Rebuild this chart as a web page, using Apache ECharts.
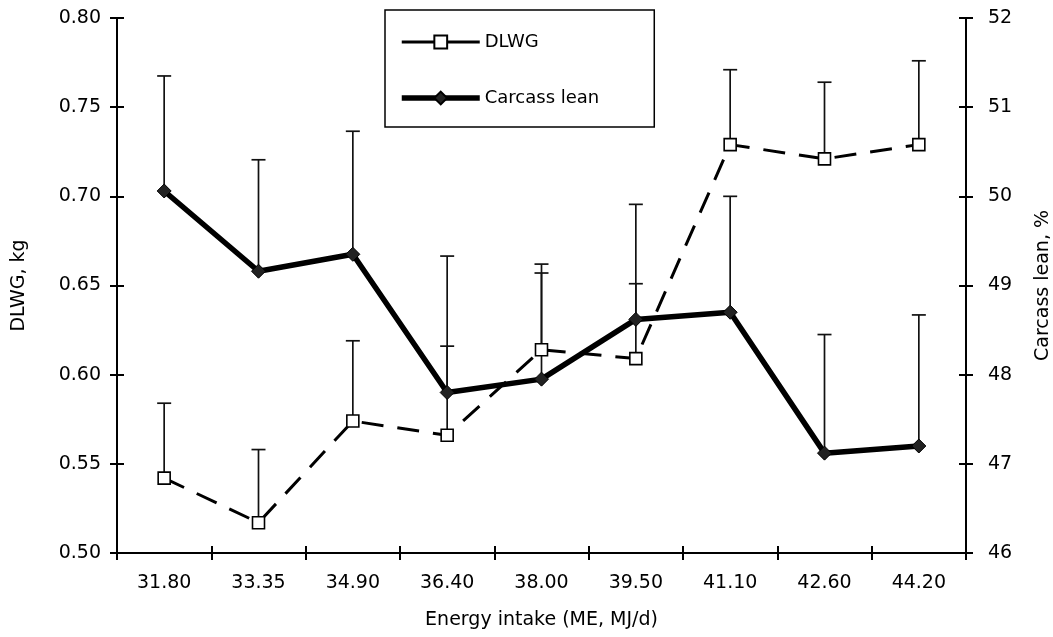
<!DOCTYPE html>
<html>
<head>
<meta charset="utf-8">
<script src="https://cdn.jsdelivr.net/npm/echarts@6/dist/echarts.min.js"></script>
<style>
html,body{margin:0;padding:0;background:#fff;}
#chart{width:1053px;height:637px;}
</style>
</head>
<body>
<div id="chart"></div>
<script>
var categories = ['31.80','33.35','34.90','36.40','38.00','39.50','41.10','42.60','44.20'];
var dlwg = [0.542, 0.517, 0.574, 0.566, 0.614, 0.609, 0.729, 0.721, 0.729];
var dlwgUpper = [0.584, 0.558, 0.619, 0.616, 0.662, 0.651, 0.771, 0.764, 0.776];
var lean = [50.06, 49.16, 49.35, 47.80, 47.95, 48.62, 48.70, 47.12, 47.20];
var leanUpper = [51.35, 50.41, 50.73, 49.33, 49.14, 49.91, 50.00, 48.45, 48.67];
var leftTicks = {min: 0.5, max: 0.8, interval: 0.05};
var rightTicks = {min: 46, max: 52, interval: 1};

var FONT = 'DejaVu Sans';
var chart = echarts.init(document.getElementById('chart'));

function errData(vals, ups) {
  return vals.map(function (v, i) { return [i, v, ups[i]]; });
}
function errRender(params, api) {
  var p1 = api.coord([api.value(0), api.value(1)]);
  var p2 = api.coord([api.value(0), api.value(2)]);
  var st = {stroke: '#111', lineWidth: 1.7, fill: null};
  return {
    type: 'group',
    children: [
      {type: 'line', shape: {x1: p1[0], y1: p1[1], x2: p2[0], y2: p2[1]}, style: st},
      {type: 'line', shape: {x1: p2[0] - 7, y1: p2[1], x2: p2[0] + 7, y2: p2[1]}, style: st}
    ]
  };
}

var axisLineStyle = {color: '#000', width: 2};
var labelStyle = {color: '#000', fontFamily: FONT, fontSize: 19};

var option = {
  animation: false,
  backgroundColor: '#fff',
  grid: {left: 117, right: 87, top: 18, bottom: 84, containLabel: false, outerBoundsMode: 'none'},
  legend: {
    orient: 'vertical',
    left: 385, top: 10,
    padding: [23, 55, 20, 14],
    itemWidth: 78, itemHeight: 16, itemGap: 38,
    borderColor: '#000', borderWidth: 1.5, borderRadius: 0,
    backgroundColor: '#fff',
    textStyle: {color: '#000', fontFamily: FONT, fontSize: 18},
    data: [
      {name: 'DLWG', lineStyle: {type: 'solid', width: 3}},
      {name: 'Carcass lean', lineStyle: {width: 5.5}}
    ]
  },
  xAxis: [
    {
      type: 'category', data: categories, position: 'bottom',
      axisLine: {lineStyle: axisLineStyle},
      axisTick: {show: true, length: 7, lineStyle: {color: '#000', width: 2}},
      axisLabel: Object.assign({margin: 21}, labelStyle),
      splitLine: {show: false},
      name: 'Energy intake (ME, MJ/d)', nameLocation: 'middle', nameGap: 58,
      nameTextStyle: {color: '#000', fontFamily: FONT, fontSize: 19}
    },
    {
      type: 'category', data: categories, position: 'bottom',
      axisLine: {show: false},
      axisTick: {show: true, inside: true, length: 7, lineStyle: {color: '#000', width: 2}},
      axisLabel: {show: false},
      splitLine: {show: false}
    }
  ],
  yAxis: [
    {
      type: 'value', position: 'left',
      min: leftTicks.min, max: leftTicks.max, interval: leftTicks.interval,
      axisLine: {show: true, lineStyle: axisLineStyle},
      axisTick: {show: true, length: 7, lineStyle: {color: '#000', width: 2}},
      axisLabel: Object.assign({margin: 16, formatter: function (v) { return v.toFixed(2); }}, labelStyle),
      splitLine: {show: false},
      name: 'DLWG, kg', nameLocation: 'middle', nameGap: 88, nameRotate: 90,
      nameTextStyle: {color: '#000', fontFamily: FONT, fontSize: 19}
    },
    {
      type: 'value', position: 'right',
      min: rightTicks.min, max: rightTicks.max, interval: rightTicks.interval,
      axisLine: {show: true, lineStyle: axisLineStyle},
      axisTick: {show: true, length: 7, lineStyle: {color: '#000', width: 2}},
      axisLabel: Object.assign({margin: 22}, labelStyle),
      splitLine: {show: false},
      name: 'Carcass lean, %', nameLocation: 'middle', nameGap: 68, nameRotate: 90,
      nameTextStyle: {color: '#000', fontFamily: FONT, fontSize: 19}
    },
    {
      type: 'value', position: 'left',
      min: leftTicks.min, max: leftTicks.max, interval: leftTicks.interval,
      axisLine: {show: false},
      axisTick: {show: true, inside: true, length: 7, lineStyle: {color: '#000', width: 2}},
      axisLabel: {show: false}, splitLine: {show: false}
    },
    {
      type: 'value', position: 'right',
      min: rightTicks.min, max: rightTicks.max, interval: rightTicks.interval,
      axisLine: {show: false},
      axisTick: {show: true, inside: true, length: 7, lineStyle: {color: '#000', width: 2}},
      axisLabel: {show: false}, splitLine: {show: false}
    }
  ],
  series: [
    {
      name: 'errDLWG', type: 'custom', xAxisIndex: 0, yAxisIndex: 0, z: 1,
      renderItem: errRender, data: errData(dlwg, dlwgUpper), encode: {x: 0, y: 1}, silent: true
    },
    {
      name: 'errLean', type: 'custom', xAxisIndex: 0, yAxisIndex: 1, z: 1,
      renderItem: errRender, data: errData(lean, leanUpper), encode: {x: 0, y: 1}, silent: true
    },
    {
      name: 'DLWG', type: 'line', xAxisIndex: 0, yAxisIndex: 0, z: 3,
      data: dlwg,
      symbol: 'rect', symbolSize: 12,
      lineStyle: {color: '#000', width: 3, type: [22, 14]},
      itemStyle: {color: '#fff', borderColor: '#000', borderWidth: 1.6}
    },
    {
      name: 'Carcass lean', type: 'line', xAxisIndex: 0, yAxisIndex: 1, z: 4,
      data: lean,
      symbol: 'diamond', symbolSize: [14, 14],
      lineStyle: {color: '#000', width: 5.5},
      itemStyle: {color: '#222', borderColor: '#000', borderWidth: 1}
    }
  ]
};
chart.setOption(option);
</script>
</body>
</html>
